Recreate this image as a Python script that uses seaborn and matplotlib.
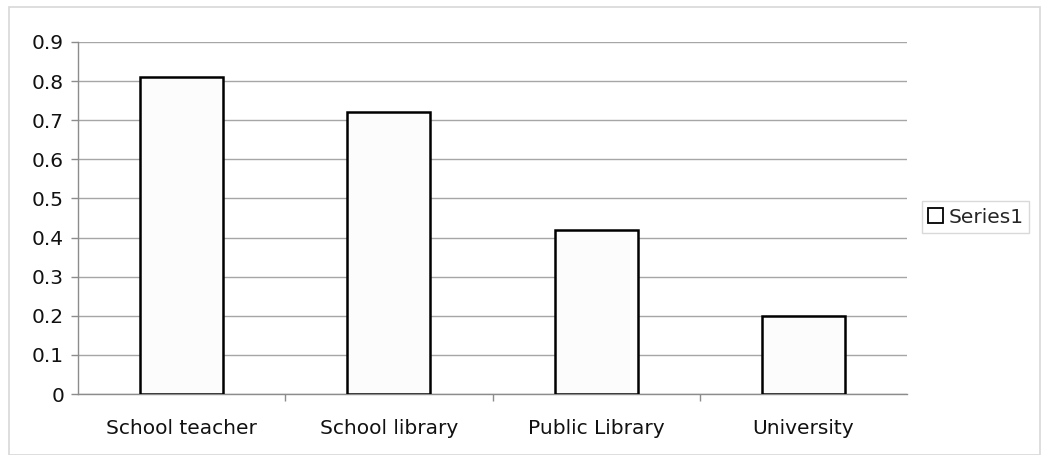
import matplotlib
matplotlib.use("Agg")
import matplotlib.pyplot as plt
from matplotlib.patches import Patch, Rectangle
import pandas as pd
import seaborn as sns

categories = ["School teacher", "School library", "Public Library", "University"]
values = [0.81, 0.72, 0.42, 0.20]
y_ticks = [0, 0.1, 0.2, 0.3, 0.4, 0.5, 0.6, 0.7, 0.8, 0.9]
series_name = "Series1"

df = pd.DataFrame({"category": categories, "value": values})

sns.set_theme(style="white")
plt.rcParams["font.family"] = ["DejaVu Sans"]

fig = plt.figure(figsize=(10.47, 4.55), dpi=100)
ax = fig.add_axes([78 / 1047, 1 - 394 / 455, (907 - 78) / 1047, (394 - 42) / 455])

sns.barplot(data=df, x="category", y="value", ax=ax, color="white",
            width=0.4, edgecolor="black", linewidth=1.8, saturation=1)
for p in ax.patches:
    p.set_facecolor("#fcfcfc")
    p.set_zorder(3)

ax.set_ylim(0, 0.9)
ax.set_xlim(-0.5, len(categories) - 0.5)
ax.set_yticks(y_ticks)
ax.set_yticklabels([f"{t:g}" for t in y_ticks])
ax.yaxis.grid(True, color="#a6a6a6", linewidth=1.0)
ax.set_axisbelow(True)
ax.set_xlabel("")
ax.set_ylabel("")

for side in ["top", "right"]:
    ax.spines[side].set_visible(False)
for side in ["left", "bottom"]:
    ax.spines[side].set_color("#8c8c8c")
    ax.spines[side].set_linewidth(1.0)

# tick marks on the value axis, and between categories on the category axis
ax.tick_params(axis="y", which="major", left=True, length=5, width=1,
               color="#8c8c8c", labelsize=14.5, pad=5, labelcolor="#111111")
ax.set_xticks(range(len(categories)))
ax.set_xticklabels(categories)
ax.tick_params(axis="x", which="major", bottom=False, labelsize=14.5,
               pad=12, labelcolor="#111111")
ax.set_xticks([i + 0.5 for i in range(len(categories) - 1)], minor=True)
ax.tick_params(axis="x", which="minor", bottom=True, length=5, width=1,
               color="#8c8c8c")

handle = Patch(facecolor="white", edgecolor="black", linewidth=1.3,
               label=series_name)
leg = fig.legend(handles=[handle], loc="center left",
                 bbox_to_anchor=(922 / 1047, 1 - 217 / 455),
                 frameon=True, fancybox=False, fontsize=14.5,
                 handlelength=0.75, handleheight=0.75, handletextpad=0.25,
                 borderpad=0.3, borderaxespad=0.0)
leg.get_frame().set_edgecolor("#d0d0d0")
leg.get_frame().set_linewidth(1.0)

# outer chart-area border
fig.patches.append(Rectangle((9 / 1047, 0.0), (1040 - 9) / 1047, 1 - 7 / 455,
                             transform=fig.transFigure, fill=False,
                             edgecolor="#d8d8d8", linewidth=1.2))

fig.savefig("out.png", dpi=100)
